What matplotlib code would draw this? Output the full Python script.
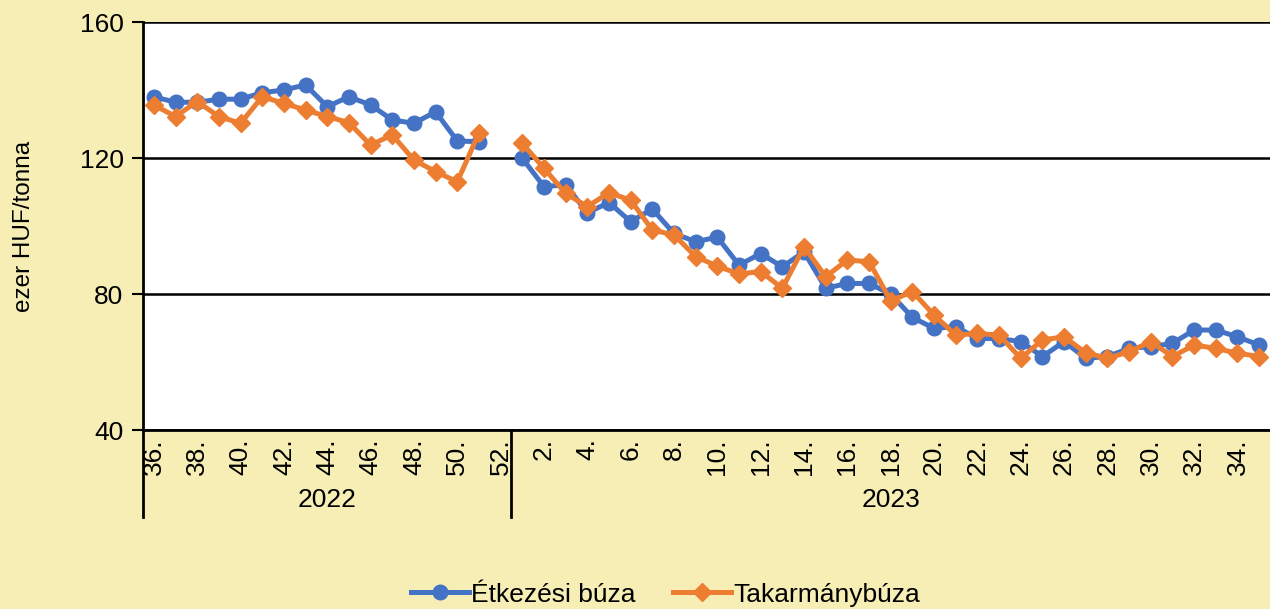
import numpy as np
import matplotlib
matplotlib.use('Agg')
import matplotlib.pyplot as plt
import matplotlib.transforms as mtransforms

# heti adatok: 2022. 36-52. hét, 2023. 1-35. hét
weeks_2022 = list(range(36, 53))
weeks_2023 = list(range(1, 36))
years = ['2022', '2023']
nan = np.nan

etkezesi_2022 = [138.0, 136.4, 136.4, 137.3, 137.3, 139.2, 140.0, 141.5, 135.1,
                 138.0, 135.6, 131.2, 130.2, 133.6, 125.0, 124.8, nan]
takarmany_2022 = [135.6, 132.2, 136.6, 132.2, 130.2, 138.0, 136.1, 134.1, 132.2,
                  130.4, 123.8, 126.8, 119.4, 116.0, 113.0, 127.3, nan]

etkezesi_2023 = [119.9, 111.6, 112.1, 103.9, 106.9, 101.3, 105.0, 97.8, 95.4, 96.7,
                 88.5, 91.9, 88.0, 92.4, 81.7, 83.1, 83.1, 80.0, 73.1, 69.9,
                 70.4, 66.9, 66.9, 66.0, 61.6, 66.0, 61.1, 61.6, 64.0, 64.5,
                 65.5, 69.4, 69.4, 67.4, 65.0]
takarmany_2023 = [124.3, 117.0, 109.6, 105.7, 109.8, 107.6, 98.8, 97.4, 91.0, 88.2,
                  85.9, 86.6, 81.7, 93.9, 85.1, 90.0, 89.5, 78.0, 80.7, 73.8,
                  67.9, 68.4, 67.9, 61.1, 66.5, 67.4, 62.7, 61.1, 63.0, 66.0,
                  61.6, 65.0, 64.0, 62.6, 61.6]

series_names = ['Étkezési búza', 'Takarmánybúza']
y_ticks = [40, 80, 120, 160]

plt.rcParams['font.family'] = ['Liberation Sans', 'DejaVu Sans']
plt.rcParams['font.size'] = 19

bg = '#F6EEB4'
fig = plt.figure(figsize=(12.7, 6.09), dpi=100, facecolor=bg)
ax = fig.add_axes([143 / 1270, 1 - 430 / 609, 1 - 143 / 1270, (430 - 22) / 609])
ax.set_facecolor('white')

labels = [f'{w}.' for w in weeks_2022 + weeks_2023]
x = np.arange(len(labels))
etk = etkezesi_2022 + etkezesi_2023
tak = takarmany_2022 + takarmany_2023

ax.plot(x, etk, color='#4472C4', lw=3.6, marker='o', ms=10.5, label=series_names[0], zorder=3)
ax.plot(x, tak, color='#ED7D31', lw=3.6, marker='D', ms=9.5, label=series_names[1], zorder=4)

ax.set_xlim(-0.5, len(labels) - 0.5)
ax.set_ylim(40, 160)
ax.set_yticks(y_ticks)
ax.yaxis.grid(True, color='black', lw=1.8)
ax.set_axisbelow(True)
ax.tick_params(axis='y', length=8, width=1.5, pad=6)
ax.set_xticks(x[::2])
ax.set_xticklabels(labels[::2], rotation=90, va='top', ha='center')
ax.tick_params(axis='x', length=0, pad=6)

for s in ['top', 'right']:
    ax.spines[s].set_visible(False)
ax.spines['left'].set_linewidth(2)
ax.spines['bottom'].set_linewidth(2)

ax.set_ylabel('ezer HUF/tonna', fontsize=17.5, labelpad=32)

# évcsoport-elválasztók és évfeliratok
trans = mtransforms.blended_transform_factory(ax.transData, ax.transAxes)
n22 = len(weeks_2022)
for xv in [-0.5, n22 - 0.5]:
    ax.plot([xv, xv], [0, -0.213], transform=trans, color='black', lw=2, clip_on=False)
ax.text((n22 - 1) / 2, -0.172, years[0], transform=trans, ha='center', va='center')
ax.text(n22 + (len(weeks_2023) - 1) / 2, -0.172, years[1], transform=trans,
        ha='center', va='center')

fig.legend(loc='lower center', bbox_to_anchor=(0.524, -0.035), ncol=2, frameon=False,
           handlelength=2.2, columnspacing=1.4, handletextpad=0.1)

fig.savefig('out.png', dpi=100, facecolor=bg)
